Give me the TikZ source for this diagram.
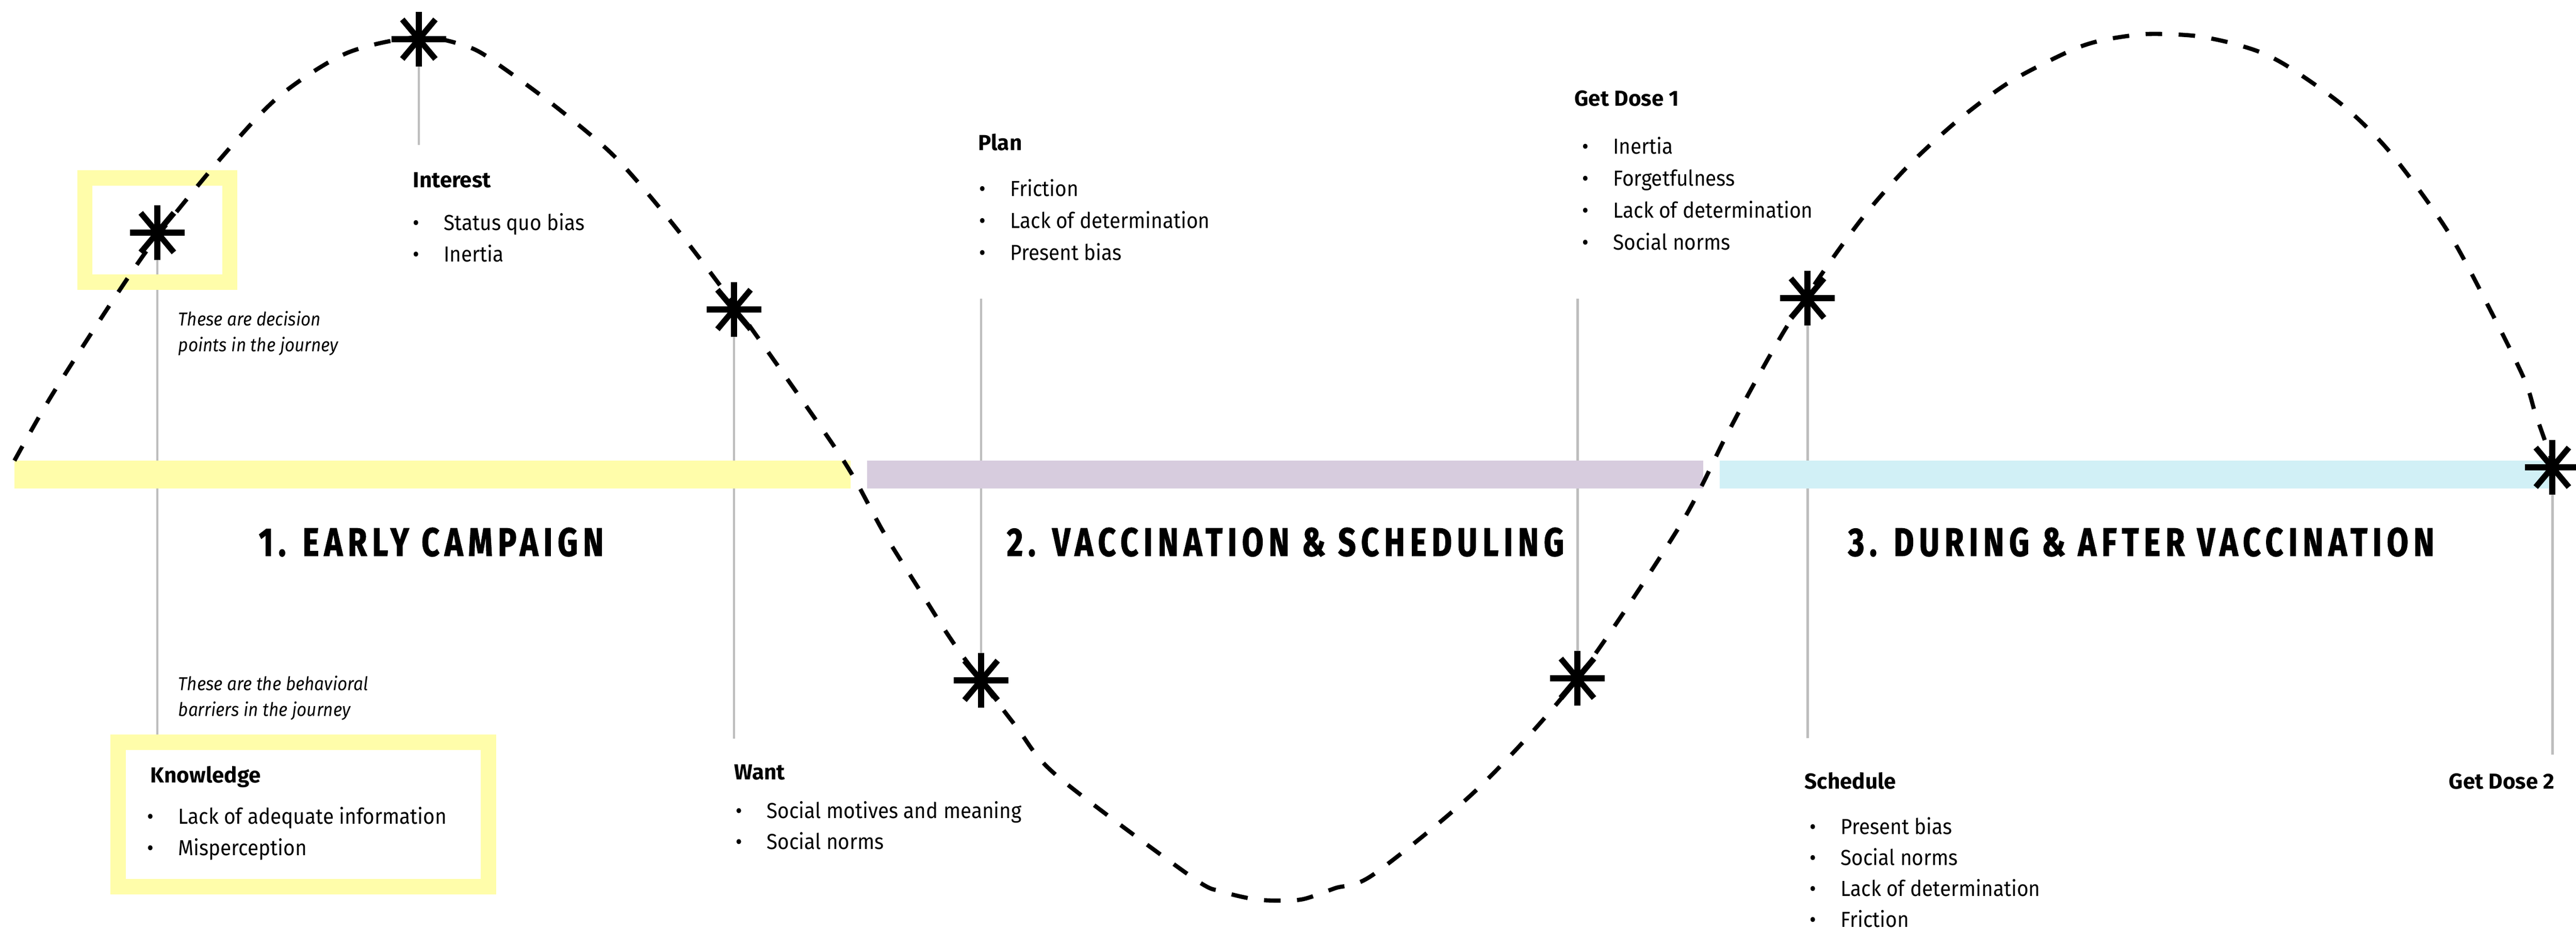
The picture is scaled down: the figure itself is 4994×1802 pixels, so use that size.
\documentclass[tikz,border=0pt]{standalone}
\usepackage{fontspec}
\setmainfont{Fira Sans}[FakeStretch=0.92]
\newfontfamily\headFont{Fira Sans}
\newfontfamily\phaseFont{Fira Sans}[FakeStretch=0.78, LetterSpace=13, FakeBold=1.5]
\usepackage{tikz}
\definecolor{mainBlack}{gray}{0.0}
\definecolor{stemGray}{gray}{0.74}
\definecolor{barYellow}{RGB}{255,253,170}
\definecolor{barPurple}{RGB}{215,204,222}
\definecolor{barCyan}{RGB}{209,240,246}
\newcommand{\bulletMark}{\makebox[17pt][l]{\textbullet}}

\tikzset{
  decision/.pic={
    \foreach \a in {0,90} \draw[line width=3.2pt, mainBlack] (\a:53) -- (\a+180:53);
    \foreach \a in {50,130} \draw[line width=3.2pt, mainBlack] (\a:50) -- (\a+180:50);
  },
  stemLine/.style={line width=1.4pt, stemGray},
  journey/.style={mainBlack, line width=2.3pt, dash pattern=on 9.1pt off 9.1pt},
  hiliteBox/.style={draw=barYellow, line width=8.4pt, inner sep=0},
  phaseTitle/.style={inner sep=0, font=\phaseFont\bfseries\fontsize{22}{24}\selectfont},
  barrierHead/.style={anchor=base west, inner sep=0, font=\headFont\bfseries\fontsize{12}{14}\selectfont},
  barrierItem/.style={anchor=base west, inner sep=0, font=\fontsize{12}{14}\selectfont},
  noteText/.style={anchor=north west, inner sep=0, align=left, font=\itshape\fontsize{10.3}{14}\selectfont},
}

\begin{document}
\begin{tikzpicture}[x=0.01cm, y=-0.01cm]
    \useasboundingbox (0,0) rectangle (4994,1802);

    % decision points and stem ends
    \coordinate (d1) at (305,451);
    \coordinate (d2) at (812,76);
    \coordinate (d3) at (1423,600);
    \coordinate (d4) at (1902,1319);
    \coordinate (d5) at (3058,1315);
    \coordinate (d6) at (3504,578);
    \coordinate (d7) at (4948,906);
    \coordinate (e1) at (305,1424);
    \coordinate (e2) at (812,281);
    \coordinate (e3) at (1423,1432);
    \coordinate (e4) at (1902,579);
    \coordinate (e5) at (3058,579);
    \coordinate (e6) at (3504,1431);
    \coordinate (e7) at (4948,1463);
    \foreach \i in {1,...,7} \draw[stemLine] (d\i) -- (e\i);

    % phase bars
    \fill[barYellow] (28,893) rectangle (1649,947);
    \fill[barPurple] (1681,893) rectangle (3302,947);
    \fill[barCyan] (3334,893) rectangle (4948,947);

    \node[phaseTitle] (early) at (836,1051) {1. EARLY CAMPAIGN};
    \node[phaseTitle] (vaccination) at (2492,1051) {2. VACCINATION \& SCHEDULING};
    \node[phaseTitle] (after) at (4151,1051) {3. DURING \& AFTER VACCINATION};

    % highlight frames
    \node[hiliteBox, minimum width=2.805cm, minimum height=2.015cm] (markBox) at (305,446) {};
    \node[hiliteBox, minimum width=7.175cm, minimum height=2.795cm] (knowBox) at (588,1579) {};

    \node[noteText] (decisionNote) at (345,603) {These are decision\\points in the journey};
    \node[noteText] (barrierNote) at (345,1310) {These are the behavioral\\barriers in the journey};

    % barriers
    \node[barrierHead] (interest) at (800,363) {Interest};
    \foreach \t [count=\i from 0] in {Status quo bias, Inertia}
        \node[barrierItem] (interest-\i) at (800,{446+61*\i}) {\bulletMark\t};

    \node[barrierHead] (knowledge) at (291,1517) {Knowledge};
    \foreach \t [count=\i from 0] in {Lack of adequate information, Misperception}
        \node[barrierItem] (knowledge-\i) at (285,{1597+61*\i}) {\bulletMark\t};

    \node[barrierHead] (want) at (1423,1511) {Want};
    \foreach \t [count=\i from 0] in {Social motives and meaning, Social norms}
        \node[barrierItem] (want-\i) at (1426,{1586+60*\i}) {\bulletMark\t};

    \node[barrierHead] (plan) at (1896,291) {Plan};
    \foreach \t [count=\i from 0] in {Friction, Lack of determination, Present bias}
        \node[barrierItem] (plan-\i) at (1898,{380+62*\i}) {\bulletMark\t};

    \node[barrierHead] (doseOne) at (3052,205) {Get Dose 1};
    \foreach \t [count=\i from 0] in {Inertia, Forgetfulness, Lack of determination, Social norms}
        \node[barrierItem] (doseOne-\i) at (3067,{298+62*\i}) {\bulletMark\t};

    \node[barrierHead] (schedule) at (3498,1529) {Schedule};
    \foreach \t [count=\i from 0] in {Present bias, Social norms, Lack of determination, Friction}
        \node[barrierItem] (schedule-\i) at (3508,{1617+60*\i}) {\bulletMark\t};

    \node[barrierHead, anchor=base east] (doseTwo) at (4953,1529) {Get Dose 2};

    % journey curve
    \draw[journey] plot[smooth, tension=0.5] coordinates {
        (28,893) (100,767) (217,585) (305,458) (434,300) (542,186) (672,103) (812,72)
        (911,92) (976,132) (1084,212) (1192,304) (1301,430) (1423,590) (1588,823) (1652,920)
        (1713,1032) (1781,1141) (1855,1256) (1968,1406) (2049,1504) (2310,1700) (2368,1728)
        (2430,1743) (2478,1746) (2527,1743) (2588,1722) (2663,1695) (2866,1528) (3058,1315)
        (3255,1022) (3344,850) (3400,745) (3466,630) (3547,509) (3619,412) (3700,321)
        (3796,233) (3896,159) (4010,100) (4071,79) (4147,67) (4198,66) (4259,70) (4320,82)
        (4384,102) (4442,133) (4544,206) (4635,297) (4747,451) (4838,621) (4895,738)
        (4914,798) (4935,858) (4951,906)};

    \foreach \i in {1,...,7} \pic at (d\i) {decision};
\end{tikzpicture}
\end{document}
